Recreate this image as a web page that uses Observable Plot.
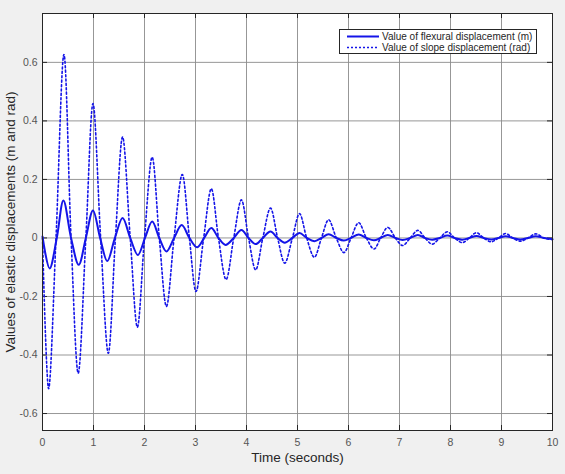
<!DOCTYPE html>
<html>
<head>
<meta charset="utf-8">
<script src="https://cdn.jsdelivr.net/npm/d3@7"></script>
<script src="https://cdn.jsdelivr.net/npm/@observablehq/plot@0.6"></script>
<style>
  html, body { margin: 0; padding: 0; background: #f0f0f0; }
  #wrap { position: relative; width: 565px; height: 474px; font-family: Arial, "Liberation Sans", sans-serif; }
  #legend { position: absolute; left: 339px; top: 29px; width: 196px; height: 23px; background: #fff; border: 1px solid #262626; font-size: 10px; color: #262626; }
  #legend .row { position: absolute; left: 0; height: 11px; line-height: 11px; white-space: nowrap; }
  #legend svg { position: absolute; left: 7px; top: 0; }
  #legend span { position: absolute; left: 42px; top: 0; }
</style>
</head>
<body>
<div id="wrap">
  <div id="chart"></div>
  <div id="legend"></div>
</div>
<script>
// ---- data ----
const seriesNames = ["Value of flexural displacement (m)", "Value of slope displacement (rad)"];

// flexural displacement (solid): time (s)
const flexT = [0, 0.14, 0.28, 0.41, 0.56, 0.71, 0.85, 0.99, 1.13, 1.27, 1.42, 1.57, 1.72, 1.87, 2.01, 2.15, 2.29, 2.43, 2.58, 2.73, 2.88, 3.03, 3.17, 3.31, 3.45, 3.59, 3.75, 3.90, 4.04, 4.18, 4.32, 4.47, 4.61, 4.75, 4.90, 5.04, 5.18, 5.33, 5.47, 5.61, 5.76, 5.91, 6.05, 6.20, 6.35, 6.50, 6.63, 6.77, 6.92, 7.06, 7.21, 7.36, 7.50, 7.64, 7.79, 7.94, 8.08, 8.23, 8.37, 8.51, 8.65, 8.80, 8.94, 9.08, 9.22, 9.37, 9.52, 9.67, 9.83, 10];
const flexV = [0.005, -0.104, 0, 0.128, 0, -0.092, 0, 0.094, 0, -0.079, 0, 0.068, 0, -0.058, 0, 0.056, 0, -0.046, 0, 0.044, 0, -0.032, 0, 0.034, 0, -0.024, 0, 0.027, 0, -0.021, 0, 0.022, 0, -0.016, 0, 0.017, 0, -0.011, 0, 0.013, 0, -0.009, 0, 0.012, 0, -0.008, 0, 0.010, 0, -0.007, 0, 0.010, 0, -0.006, 0, 0.008, 0, -0.006, 0, 0.007, 0, -0.005, 0, 0.006, 0, -0.005, 0, 0.006, 0, -0.004];

// slope displacement (dotted): time (s)
const slopeT = [0, 0.12, 0.265, 0.42, 0.56, 0.70, 0.85, 0.99, 1.14, 1.29, 1.43, 1.57, 1.72, 1.86, 2.00, 2.15, 2.29, 2.43, 2.58, 2.74, 2.88, 3.01, 3.16, 3.31, 3.45, 3.60, 3.75, 3.90, 4.04, 4.18, 4.32, 4.47, 4.61, 4.75, 4.90, 5.04, 5.18, 5.33, 5.47, 5.61, 5.76, 5.91, 6.05, 6.20, 6.35, 6.50, 6.63, 6.77, 6.92, 7.06, 7.21, 7.36, 7.50, 7.64, 7.79, 7.94, 8.08, 8.23, 8.37, 8.51, 8.65, 8.80, 8.94, 9.08, 9.22, 9.37, 9.52, 9.67, 9.83, 10];
const slopeV = [0, -0.515, 0, 0.627, 0, -0.462, 0, 0.459, 0, -0.394, 0, 0.345, 0, -0.305, 0, 0.276, 0, -0.234, 0, 0.217, 0, -0.183, 0, 0.168, 0, -0.142, 0, 0.130, 0, -0.109, 0, 0.102, 0, -0.086, 0, 0.083, 0, -0.066, 0, 0.062, 0, -0.050, 0, 0.052, 0, -0.038, 0, 0.036, 0, -0.026, 0, 0.026, 0, -0.021, 0, 0.021, 0, -0.016, 0, 0.018, 0, -0.013, 0, 0.015, 0, -0.011, 0, 0.014, 0, -0.006];

const xTicks = [0, 1, 2, 3, 4, 5, 6, 7, 8, 9, 10];
const yTicks = [-0.6, -0.4, -0.2, 0, 0.2, 0.4, 0.6];
const xLabel = "Time (seconds)";
const yLabel = "Values of elastic displacements (m and rad)";

// ---- build tables ----
const flex = flexT.map((t, i) => ({t, v: flexV[i]}));
const slope = slopeT.map((t, i) => ({t, v: slopeV[i]}));

const W = 565, H = 474, mL = 42, mR = 13, mT = 13, mB = 44;
const fw = W - mL - mR, fh = H - mT - mB;
const blue = "#1414e8";
const fmt = d => d === 0 ? "0" : String(d);

const chart = Plot.plot({
  width: W, height: H,
  marginLeft: mL, marginRight: mR, marginTop: mT, marginBottom: mB,
  style: {background: "#f0f0f0", fontFamily: "Arial, 'Liberation Sans', sans-serif", overflow: "visible"},
  x: {domain: [0, 10]},
  y: {domain: [-0.658, 0.767]},
  marks: [
    Plot.frame({fill: "white", stroke: "none"}),
    Plot.gridX(xTicks, {stroke: "#8c8c8c", strokeOpacity: 0.9, strokeWidth: 1}),
    Plot.gridY(yTicks, {stroke: "#8c8c8c", strokeOpacity: 0.9, strokeWidth: 1}),
    // inward tick marks on all four sides
    Plot.ruleX(xTicks, {x: d => d, insetTop: fh - 5, stroke: "#262626"}),
    Plot.ruleX(xTicks, {x: d => d, insetBottom: fh - 5, stroke: "#262626"}),
    Plot.ruleY(yTicks, {y: d => d, insetRight: fw - 5, stroke: "#262626"}),
    Plot.ruleY(yTicks, {y: d => d, insetLeft: fw - 5, stroke: "#262626"}),
    Plot.line(slope, {x: "t", y: "v", curve: "catmull-rom", stroke: blue, strokeWidth: 1.6, strokeDasharray: "2,2.4"}),
    Plot.line(flex, {x: "t", y: "v", curve: "catmull-rom", stroke: blue, strokeWidth: 2}),
    Plot.frame({stroke: "#262626", strokeWidth: 1}),
    Plot.axisX(xTicks, {tickSize: 0, tickPadding: 8, fontSize: 10.5, fill: "#555", tickFormat: fmt, label: null}),
    Plot.axisY(yTicks, {tickSize: 0, tickPadding: 5, fontSize: 10.5, fill: "#555", tickFormat: fmt, label: null}),
    Plot.text([xLabel], {text: d => d, frameAnchor: "bottom", dy: 31, fontSize: 13.5, fill: "#262626"}),
    Plot.text([yLabel], {text: d => d, frameAnchor: "left", textAnchor: "middle", rotate: -90, dx: -32, fontSize: 13.5, fill: "#262626"})
  ]
});
document.getElementById("chart").appendChild(chart);

// legend
const legend = document.getElementById("legend");
seriesNames.forEach((name, i) => {
  const row = document.createElement("div");
  row.className = "row";
  row.style.top = (1 + i * 11) + "px";
  row.style.width = "196px";
  const dash = i === 0 ? "" : 'stroke-dasharray="2,2"';
  row.innerHTML = `<svg width="32" height="11"><line x1="0" x2="32" y1="5.5" y2="5.5" stroke="${blue}" stroke-width="${i === 0 ? 2 : 1.6}" ${dash}/></svg><span>${name}</span>`;
  legend.appendChild(row);
});
</script>
</body>
</html>
